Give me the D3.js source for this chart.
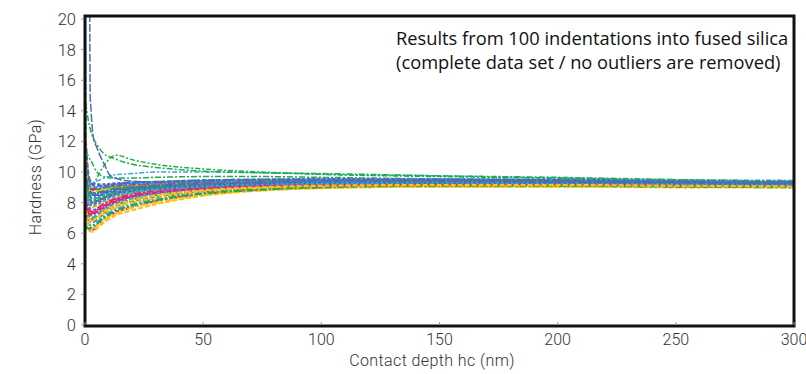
<!DOCTYPE html>
<html>
<head>
<meta charset="utf-8">
<script src="https://cdn.jsdelivr.net/npm/d3@7"></script>
<style>
  html, body { margin: 0; padding: 0; background: #fff; }
  svg { display: block; }
</style>
</head>
<body>
<div id="chart"></div>
<script>
// depth grid (nm) shared by the band curves
const depthGrid = [0.3, 1.5, 3, 5, 8, 12, 20, 30, 50, 75, 100, 150, 200, 250, 300];

// hardness (GPa) of the main band curves, one row per indentation
const bandCurves = [
  [6.6, 6.2, 6.1, 6.3, 6.7, 7.1, 7.5, 7.9, 8.45, 8.8, 8.95, 9.05, 9.05, 9.0, 9.0],
  [11.0, 9.0, 8.5, 8.5, 8.6, 8.8, 8.95, 9.05, 9.2, 9.3, 9.35, 9.4, 9.35, 9.3, 9.25],
  [7.0, 6.4, 6.2, 6.5, 6.9, 7.3, 7.7, 8.1, 8.55, 8.85, 9.0, 9.1, 9.1, 9.05, 9.05],
  [9.3, 9.0, 8.8, 8.85, 8.95, 9.05, 9.1, 9.2, 9.3, 9.35, 9.4, 9.45, 9.4, 9.35, 9.3],
  [6.8, 6.6, 6.5, 6.7, 7.1, 7.5, 7.9, 8.25, 8.65, 8.9, 9.05, 9.15, 9.1, 9.1, 9.05],
  [10.0, 9.1, 8.7, 8.75, 8.85, 8.95, 9.05, 9.15, 9.25, 9.35, 9.4, 9.4, 9.4, 9.35, 9.25],
  [7.4, 6.9, 6.7, 6.9, 7.3, 7.7, 8.1, 8.4, 8.75, 8.95, 9.1, 9.15, 9.15, 9.1, 9.1],
  [11.5, 9.5, 8.9, 8.9, 9.0, 9.1, 9.2, 9.25, 9.35, 9.4, 9.45, 9.45, 9.4, 9.35, 9.3],
  [7.9, 7.2, 6.9, 7.1, 7.5, 7.8, 8.2, 8.5, 8.8, 9.0, 9.1, 9.2, 9.2, 9.15, 9.1],
  [9.8, 9.3, 9.1, 9.0, 9.05, 9.15, 9.25, 9.3, 9.4, 9.45, 9.5, 9.5, 9.45, 9.4, 9.3],
  [8.3, 7.5, 7.1, 7.3, 7.6, 8.0, 8.35, 8.6, 8.85, 9.05, 9.15, 9.2, 9.2, 9.15, 9.1],
  [10.8, 9.6, 9.3, 9.2, 9.2, 9.25, 9.3, 9.35, 9.45, 9.5, 9.55, 9.5, 9.5, 9.4, 9.35],
  [7.2, 7.4, 7.3, 7.5, 7.8, 8.1, 8.45, 8.7, 8.9, 9.1, 9.2, 9.25, 9.2, 9.2, 9.15],
  [8.8, 8.7, 8.6, 8.65, 8.75, 8.9, 9.0, 9.1, 9.2, 9.3, 9.35, 9.4, 9.4, 9.3, 9.25],
  [9.0, 7.9, 7.5, 7.6, 7.9, 8.2, 8.5, 8.75, 8.95, 9.1, 9.2, 9.25, 9.25, 9.2, 9.15],
  [12.2, 8.3, 7.7, 7.8, 8.0, 8.3, 8.6, 8.8, 9.0, 9.15, 9.25, 9.3, 9.25, 9.2, 9.15],
  [9.5, 8.7, 8.3, 8.4, 8.55, 8.7, 8.9, 9.0, 9.15, 9.25, 9.3, 9.35, 9.35, 9.3, 9.25],
  [8.0, 7.8, 7.9, 8.0, 8.2, 8.45, 8.7, 8.85, 9.05, 9.2, 9.25, 9.3, 9.3, 9.25, 9.2],
  [10.5, 8.6, 8.0, 8.1, 8.3, 8.5, 8.75, 8.9, 9.1, 9.2, 9.3, 9.3, 9.3, 9.25, 9.2],
  [7.6, 8.0, 8.2, 8.3, 8.45, 8.6, 8.8, 8.95, 9.1, 9.25, 9.3, 9.35, 9.3, 9.25, 9.2],
  [6.5, 6.7, 6.9, 7.0, 7.3, 7.6, 8.0, 8.3, 8.7, 8.95, 9.1, 9.15, 9.1, 9.1, 9.05],
  [12.0, 9.8, 9.2, 9.1, 9.1, 9.2, 9.3, 9.35, 9.45, 9.5, 9.5, 9.5, 9.45, 9.35, 9.3],
  [8.5, 7.6, 7.4, 7.6, 7.9, 8.2, 8.55, 8.8, 9.0, 9.15, 9.2, 9.25, 9.25, 9.2, 9.15],
  [9.2, 8.4, 8.1, 8.2, 8.4, 8.6, 8.85, 9.0, 9.15, 9.25, 9.3, 9.35, 9.3, 9.25, 9.2],
  [7.0, 7.1, 7.0, 7.2, 7.6, 7.9, 8.3, 8.6, 8.85, 9.05, 9.15, 9.2, 9.15, 9.1, 9.1],
  [6.9, 6.5, 6.3, 6.5, 6.9, 7.2, 7.7, 8.0, 8.5, 8.8, 8.95, 9.05, 9.05, 9.05, 9.0],
  [8.6, 8.2, 8.0, 8.1, 8.3, 8.55, 8.8, 8.95, 9.1, 9.25, 9.3, 9.3, 9.3, 9.25, 9.2],
  [7.8, 7.3, 7.2, 7.4, 7.7, 8.0, 8.4, 8.65, 8.9, 9.1, 9.15, 9.2, 9.2, 9.15, 9.1],
  [6.4, 6.3, 6.4, 6.6, 7.0, 7.4, 7.8, 8.15, 8.6, 8.85, 9.0, 9.1, 9.1, 9.05, 9.0],
  [8.9, 8.1, 7.8, 7.9, 8.1, 8.4, 8.65, 8.85, 9.05, 9.2, 9.25, 9.3, 9.25, 9.2, 9.15],
  [7.5, 7.0, 6.8, 7.0, 7.4, 7.75, 8.15, 8.45, 8.8, 9.0, 9.1, 9.15, 9.15, 9.1, 9.05],
  [9.6, 8.9, 8.6, 8.6, 8.7, 8.85, 9.0, 9.1, 9.25, 9.3, 9.4, 9.4, 9.35, 9.3, 9.25]
];

// outlier curves with their own depths
const greenHighDepth = [0.3, 1.5, 3, 5, 8, 12, 20, 30, 50, 75, 100, 150, 200, 250, 300];
const greenHighHard  = [14.5, 13.3, 12.4, 11.8, 11.2, 10.9, 10.5, 10.3, 10.05, 9.95, 9.9, 9.75, 9.65, 9.5, 9.4];
const greenCrossDepth = [0.3, 1.5, 3, 5, 8, 13, 20, 30, 50, 75, 100, 150, 200, 250, 300];
const greenCrossHard  = [9.5, 9.2, 9.0, 9.6, 10.4, 11.1, 10.8, 10.5, 10.2, 10.0, 9.85, 9.7, 9.6, 9.45, 9.35];
const spikeDepth = [2.0, 2.2, 2.5, 3.0, 3.5, 5, 8.5, 10.5, 15, 20, 30, 50, 75, 100, 150, 200, 250, 300];
const spikeHard  = [21, 15.0, 14.2, 13.0, 12.3, 11.6, 10.4, 9.8, 9.5, 9.4, 9.35, 9.4, 9.45, 9.5, 9.45, 9.4, 9.35, 9.3];
const cyanDepth = [0.3, 1.5, 3, 5, 8, 12, 20, 30, 50, 75, 100, 150, 200, 250, 300];
const cyanHard  = [10.3, 9.5, 9.3, 9.4, 9.6, 9.8, 9.9, 10.0, 10.0, 9.95, 9.85, 9.75, 9.6, 9.5, 9.45];
const greenLowDepth = [0.3, 1.5, 3, 5, 8, 12, 20, 30, 50, 75, 100, 150, 200, 250, 300];
const greenLowHard  = [11.4, 11.0, 10.6, 10.0, 9.7, 9.6, 9.6, 9.65, 9.7, 9.7, 9.65, 9.55, 9.5, 9.4, 9.35];
const edgeDepth = [0.15, 0.4, 1.0, 2, 4, 8, 15, 30, 60, 100, 150, 200, 250, 300];
const edgeHard  = [21, 12.8, 10.2, 9.0, 8.8, 8.9, 9.05, 9.2, 9.3, 9.35, 9.35, 9.3, 9.25, 9.2];

const xTicks = [0, 50, 100, 150, 200, 250, 300];
const yTicks = [0, 2, 4, 6, 8, 10, 12, 14, 16, 18, 20];
const palette = ['#ffc20e', '#4a6cba', '#ec1c7c', '#1fad4c', '#2aa8df'];
const dashes = ['5,2', '7,2,2,2', '3,2'];

const width = 806;
const height = 374;
const plotLeft = 85, plotRight = 794, plotTop = 16, plotBottom = 326;

const svg = d3.select('#chart')
  .append('svg')
  .attr('width', width)
  .attr('height', height);

const x = d3.scaleLinear().domain([0, 300]).range([plotLeft, plotRight]);
const y = d3.scaleLinear().domain([0, 20]).range([325, 19]);

svg.append('clipPath')
  .attr('id', 'plot-clip')
  .append('rect')
  .attr('x', plotLeft + 1)
  .attr('y', plotTop + 1)
  .attr('width', plotRight - plotLeft - 2)
  .attr('height', plotBottom - plotTop - 2);

const line = d3.line()
  .x(d => x(d[0]))
  .y(d => y(d[1]))
  .curve(d3.curveMonotoneX);

const plot = svg.append('g').attr('clip-path', 'url(#plot-clip)');

// outliers first so the band sits on top of them
const outliers = [
  { depth: edgeDepth, hard: edgeHard, color: '#1fad4c', dash: '6,2' },
  { depth: greenLowDepth, hard: greenLowHard, color: '#1fad4c', dash: '6,2,2,2' },
  { depth: cyanDepth, hard: cyanHard, color: '#2aa8df', dash: '5,2,2,2' },
  { depth: greenCrossDepth, hard: greenCrossHard, color: '#1fad4c', dash: '5,2,2,2' },
  { depth: greenHighDepth, hard: greenHighHard, color: '#1fad4c', dash: '6,2,2,2' },
  { depth: spikeDepth, hard: spikeHard, color: '#4a6cba', dash: '8,2' }
];
outliers.forEach(o => {
  plot.append('path')
    .datum(o.depth.map((d, j) => [d, o.hard[j]]))
    .attr('d', line)
    .attr('fill', 'none')
    .attr('stroke', o.color)
    .attr('stroke-width', 1.5)
    .attr('stroke-dasharray', o.dash);
});

// main band
bandCurves.forEach((curve, i) => {
  plot.append('path')
    .datum(depthGrid.map((d, j) => [d, curve[j]]))
    .attr('d', line)
    .attr('fill', 'none')
    .attr('stroke', palette[i % palette.length])
    .attr('stroke-width', 2.2)
    .attr('stroke-dasharray', dashes[i % dashes.length]);
});

// frame
svg.append('rect')
  .attr('x', plotLeft)
  .attr('y', plotTop)
  .attr('width', plotRight - plotLeft)
  .attr('height', plotBottom - plotTop)
  .attr('fill', 'none')
  .attr('stroke', '#111')
  .attr('stroke-width', 3);

const tickFont = "Roboto, 'DejaVu Sans', sans-serif";

// x ticks
svg.append('g')
  .selectAll('line')
  .data(xTicks)
  .enter()
  .append('line')
  .attr('x1', d => x(d)).attr('x2', d => x(d))
  .attr('y1', plotBottom - 4).attr('y2', plotBottom - 1)
  .attr('stroke', '#999').attr('stroke-width', 1);

svg.append('g')
  .selectAll('text')
  .data(xTicks)
  .enter()
  .append('text')
  .attr('x', d => x(d))
  .attr('y', 345)
  .attr('text-anchor', 'middle')
  .style('font-family', tickFont)
  .style('font-size', '16px')
  .style('font-weight', 300)
  .attr('fill', '#333')
  .text(d => d);

// y ticks
svg.append('g')
  .selectAll('text')
  .data(yTicks)
  .enter()
  .append('text')
  .attr('x', 76)
  .attr('y', d => y(d))
  .attr('dy', '0.36em')
  .attr('text-anchor', 'end')
  .style('font-family', tickFont)
  .style('font-size', '16.5px')
  .style('font-weight', 300)
  .attr('fill', '#333')
  .text(d => d);

svg.append('g')
  .selectAll('line')
  .data(yTicks)
  .enter()
  .append('line')
  .attr('x1', plotLeft - 4).attr('x2', plotLeft - 1)
  .attr('y1', d => y(d)).attr('y2', d => y(d))
  .attr('stroke', '#999').attr('stroke-width', 1);

// axis titles
svg.append('text')
  .attr('x', 432)
  .attr('y', 366)
  .attr('text-anchor', 'middle')
  .style('font-family', tickFont)
  .style('font-size', '16px')
  .style('font-weight', 300)
  .style('letter-spacing', '0.4px')
  .attr('fill', '#333')
  .text('Contact depth hc (nm)');

svg.append('text')
  .attr('transform', 'translate(41,177) rotate(-90)')
  .attr('text-anchor', 'middle')
  .style('font-family', tickFont)
  .style('font-size', '16px')
  .style('font-weight', 300)
  .style('letter-spacing', '0.4px')
  .attr('fill', '#333')
  .text('Hardness (GPa)');

// annotation
const note = svg.append('text')
  .style('font-family', "'Open Sans', sans-serif")
  .style('font-size', '18.3px')
  .attr('fill', '#111');
note.append('tspan').attr('x', 396).attr('y', 45)
  .text('Results from 100 indentations into fused silica');
note.append('tspan').attr('x', 396).attr('y', 69)
  .text('(complete data set / no outliers are removed)');
</script>
</body>
</html>
